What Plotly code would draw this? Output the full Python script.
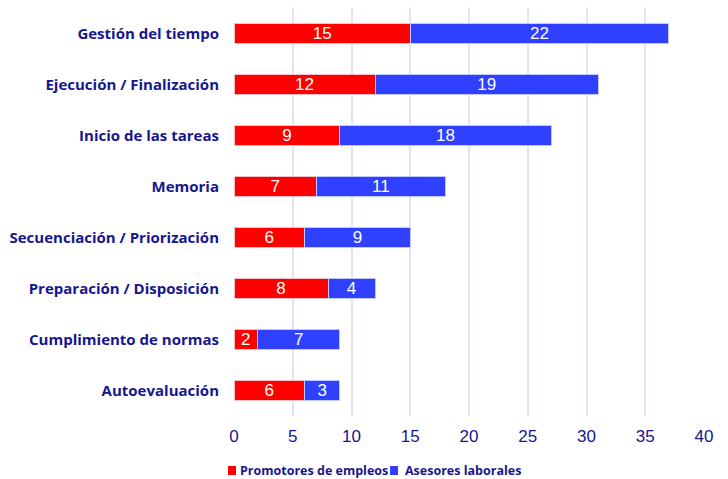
import plotly.graph_objects as go

categories = ["Gestión del tiempo", "Ejecución / Finalización", "Inicio de las tareas", "Memoria",
              "Secuenciación / Priorización", "Preparación / Disposición", "Cumplimiento de normas", "Autoevaluación"]
promotores = [15, 12, 9, 7, 6, 8, 2, 6]
asesores = [22, 19, 18, 11, 9, 4, 7, 3]
x_ticks = [0, 5, 10, 15, 20, 25, 30, 35, 40]
series_names = ["Promotores de empleos", "Asesores laborales"]
colors = ["#ff0000", "#3040ff"]

navy = "#16168f"
fig = go.Figure()
for name, vals, col, edge in [(series_names[0], promotores, colors[0], "#f4c0c8"),
                              (series_names[1], asesores, colors[1], "#c0c8ff")]:
    fig.add_trace(go.Bar(y=categories, x=vals, orientation="h", name=name, showlegend=False,
                         marker=dict(color=col, line=dict(color=edge, width=1)),
                         text=vals, textposition="inside", insidetextanchor="middle", textangle=0,
                         constraintext="none",
                         textfont=dict(color="white", size=17, family="Liberation Sans")))

# manual legend: swatches + labels
legend_items = [(-0.0128, 0.0043, 0.0085), (0.332, 0.349, 0.3596)]
for (x0, x1, xt), name, col in zip(legend_items, series_names, colors):
    fig.add_shape(type="rect", xref="paper", yref="paper", x0=x0, x1=x1, y0=-0.1446, y1=-0.1225,
                  fillcolor=col, line=dict(width=0))
    fig.add_annotation(text=name, xref="paper", yref="paper", x=xt, y=-0.134,
                       xanchor="left", yanchor="middle", showarrow=False,
                       font=dict(family="Open Sans", size=12.5, color=navy, weight="bold"))

fig.update_layout(
    barmode="stack", bargap=0.6,
    width=728, height=479,
    margin=dict(l=226, r=32, t=0, b=71),
    plot_bgcolor="white", paper_bgcolor="white",
    uniformtext=dict(mode=False),
    xaxis=dict(range=[0, 40], tickvals=x_ticks, showgrid=True, gridcolor="#e2e2fa", gridwidth=1.5,
               zeroline=False, showline=False, automargin=False,
               tickfont=dict(family="Liberation Sans", size=17, color=navy),
               ticks="", ticklabelstandoff=8),
    yaxis=dict(categoryorder="array", categoryarray=categories[::-1], showgrid=False, automargin=False,
               tickfont=dict(family="Open Sans", size=15, color=navy, weight="bold"),
               ticks="", ticklabelstandoff=14),
)
fig.write_html("out.html")
